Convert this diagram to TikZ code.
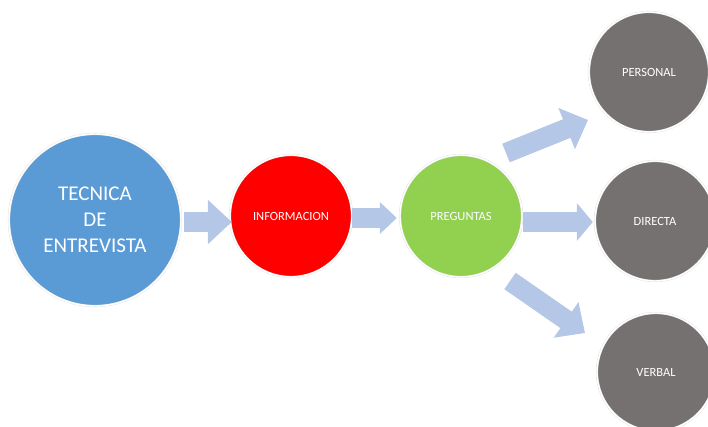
\documentclass[tikz,border=0pt]{standalone}
\usepackage{fontspec}
\setmainfont{Carlito}
\usetikzlibrary{arrows.meta, positioning}

\definecolor{azulC}{HTML}{5B9BD5}
\definecolor{rojoC}{HTML}{FF0000}
\definecolor{verdeC}{HTML}{92D050}
\definecolor{grisC}{HTML}{767171}
\definecolor{flechaC}{HTML}{B4C7E7}

\begin{document}
\begin{tikzpicture}[x=1pt, y=-1pt,
  circulo/.style={circle, fill=#1, draw=black!12, double=white, double distance=1.4pt,
    line width=0.4pt, inner sep=0pt, text=white, align=center},
  rotulo/.style={font=\fontsize{12.5}{15}\selectfont},
  flecha/.style={draw=flechaC, line width=20pt, -{Triangle[length=#1]}},
  flecha/.default={20pt, width=40pt}
]
  % marco del dibujo
  \useasboundingbox (0,0) rectangle (708,427);

  % =============== circulos ===============
  \node[circulo=azulC, minimum size=172pt, font=\fontsize{21}{26}\selectfont]
    (tec) at (95,220) {TECNICA\\DE\\ENTREVISTA};
  \node[circulo=rojoC, rotulo, minimum size=122pt] (inf) at (291,216) {INFORMACION};
  \node[circulo=verdeC, rotulo, minimum size=122pt] (pre) at (461,216) {PREGUNTAS};

  % ramas de la derecha
  \node[circulo=grisC, rotulo, minimum size=120pt] (per) at (649,72) {PERSONAL};
  \node[circulo=grisC, rotulo, minimum size=120pt] (dir) at (655,221) {DIRECTA};
  \node[circulo=grisC, rotulo, minimum size=118pt] (ver) at (656,372) {VERBAL};

  % =============== flechas ===============
  \draw[flecha={24pt, width=43pt}] ([shift={(3,2)}]tec.east) -- ([shift={(2,6)}]inf.west);
  \draw[flecha={17pt, width=31pt}] ([shift={(0,2)}]inf.east) -- ([shift={(-3,2)}]pre.west);
  \draw[flecha={16pt, width=37pt}] ([shift={(1,6)}]pre.east) -- ([shift={(-2,1)}]dir.west);

  % diagonales
  \coordinate (arrIni) at (506,153);
  \coordinate (arrFin) at (588,120);
  \coordinate (abaIni) at (510,281);
  \coordinate (abaFin) at (585,333);
  \draw[flecha={23pt, width=43pt}] (arrIni) -- (arrFin);
  \draw[flecha={23pt, width=42pt}] (abaIni) -- (abaFin);
\end{tikzpicture}
\end{document}
